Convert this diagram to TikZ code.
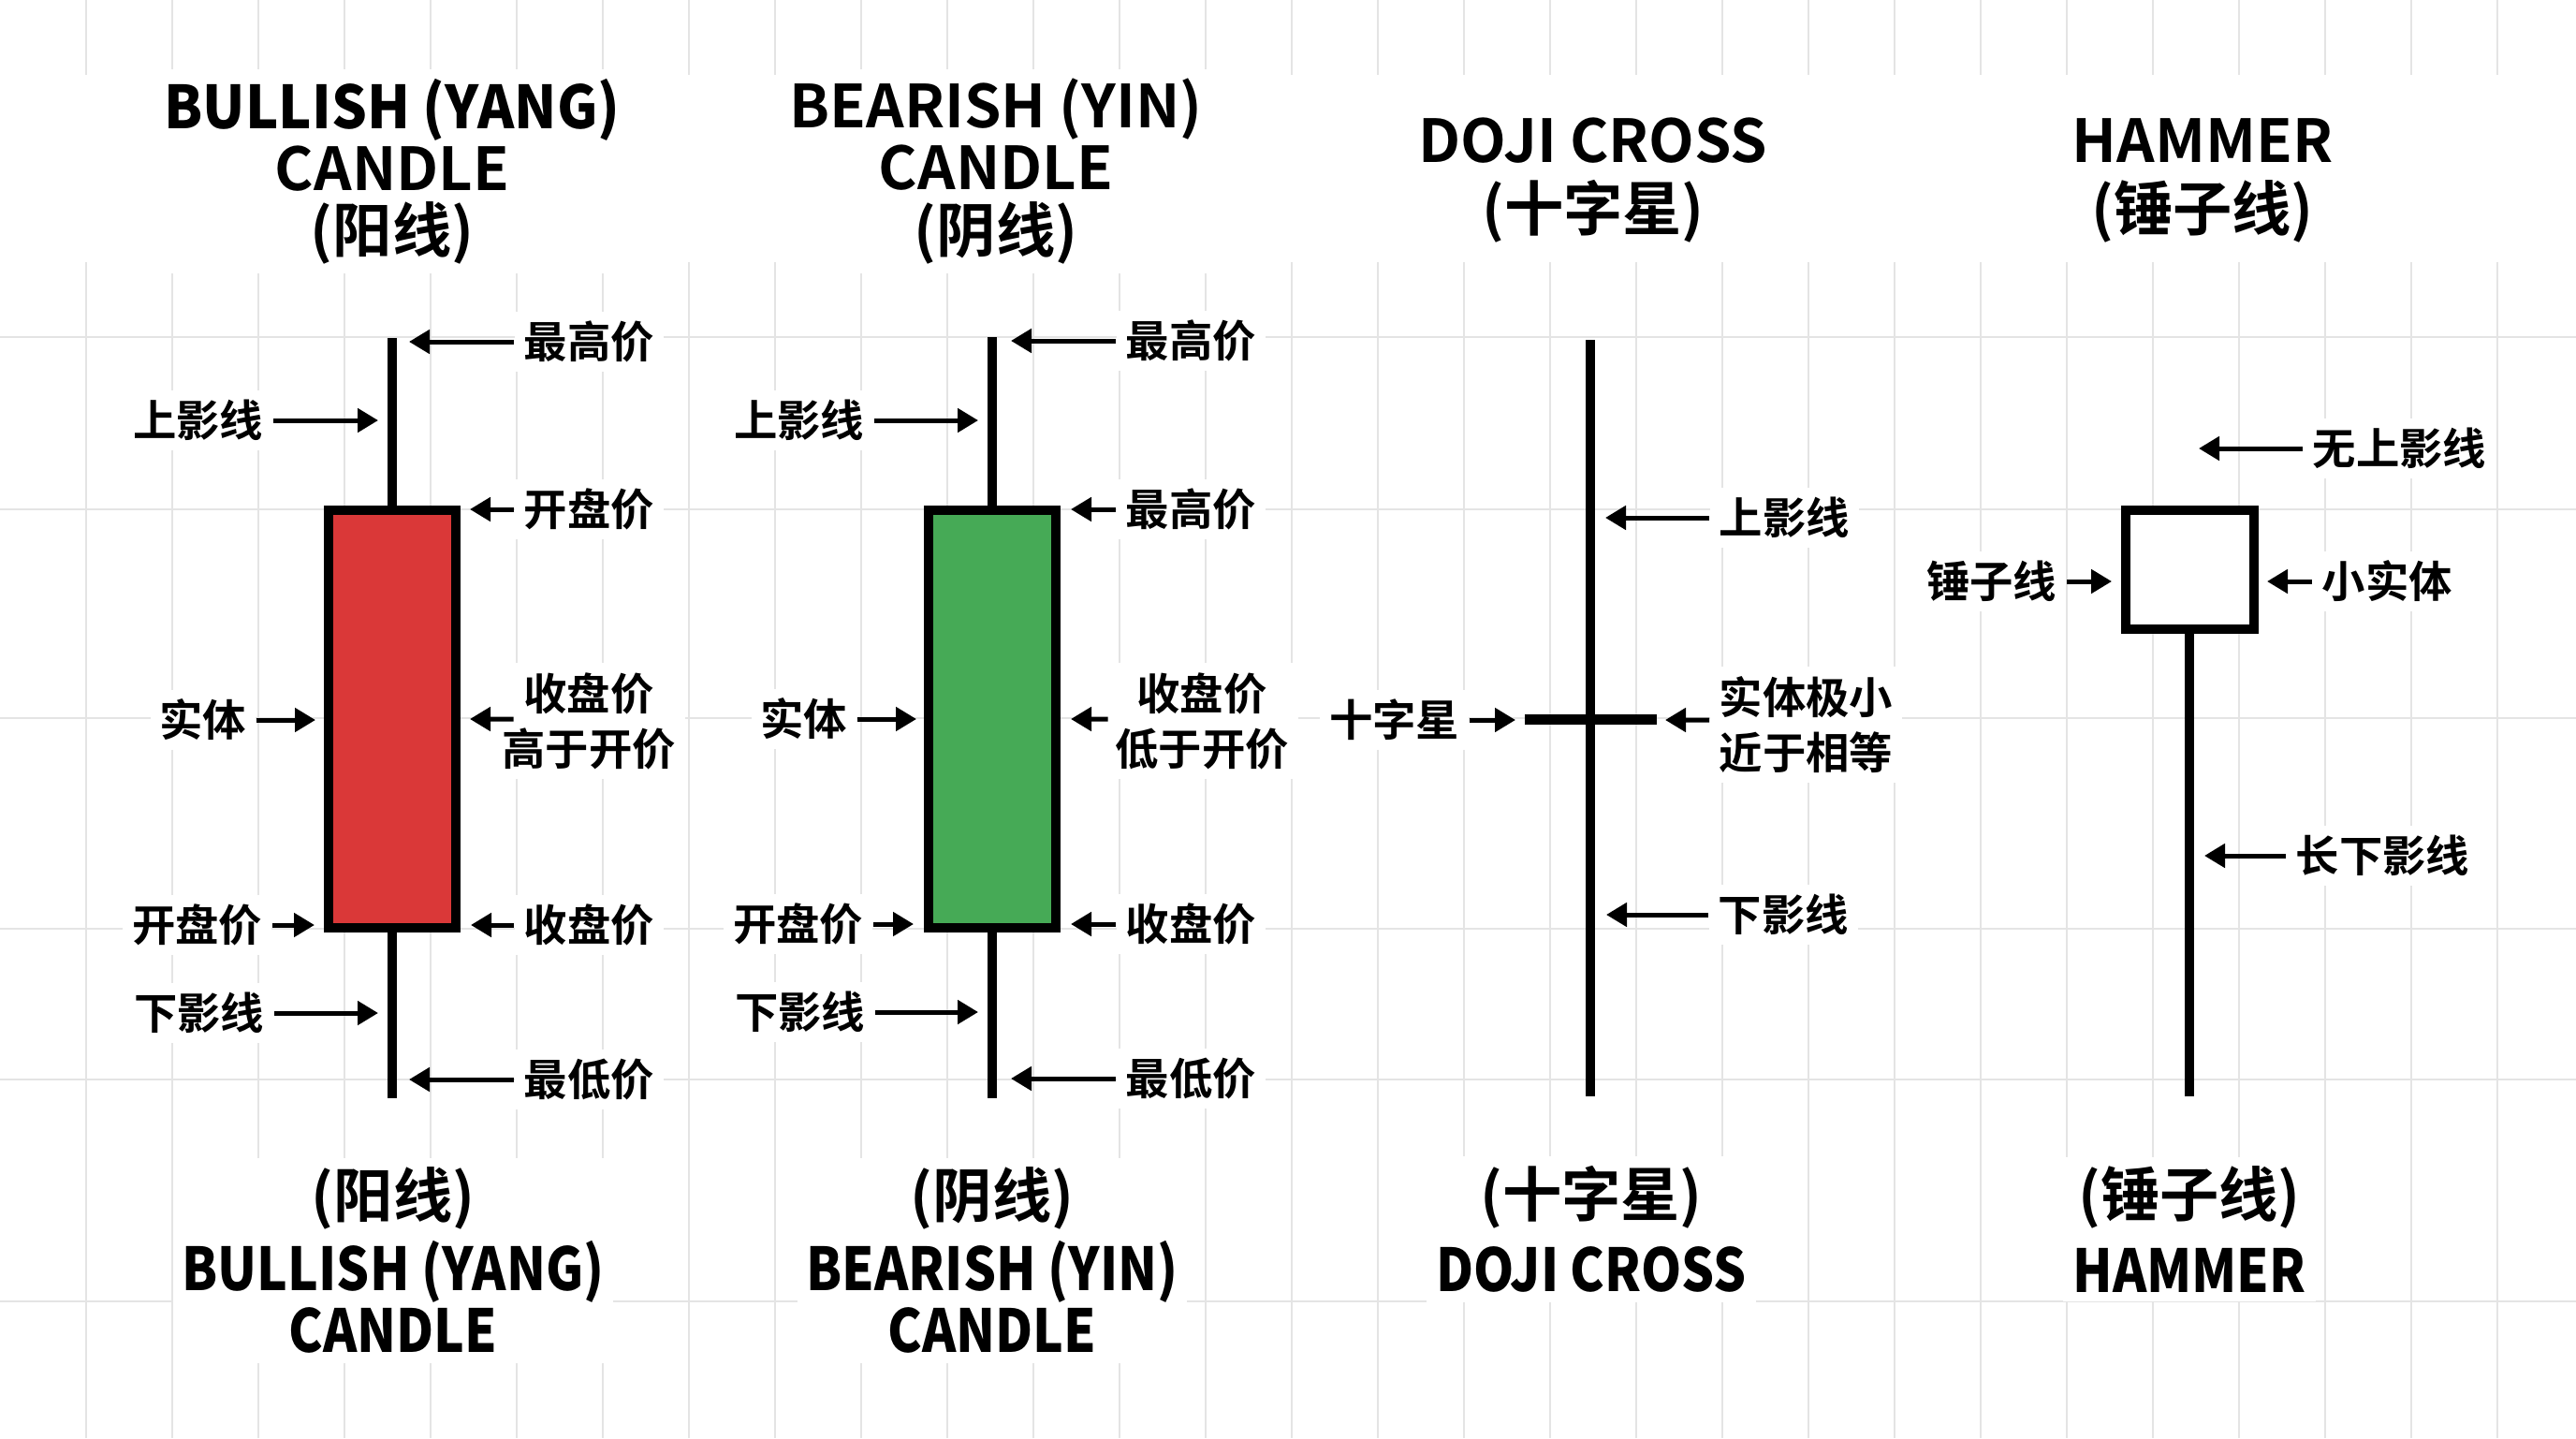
\documentclass[tikz,border=0pt]{standalone}
\usepackage{fontspec}
\setmainfont{Noto Sans CJK SC}[BoldFont=* Bold]
\newfontfamily\narrowlat{Noto Sans CJK SC Bold}[FakeStretch=0.87]
\newfontfamily\slimlat{Noto Sans CJK SC Bold}[FakeStretch=0.94]
\usetikzlibrary{arrows.meta,calc}

\definecolor{yangred}{RGB}{218,56,56}
\definecolor{yingreen}{RGB}{70,170,86}
\definecolor{gridgray}{RGB}{228,228,228}

\begin{document}
\begin{tikzpicture}[
    ttl/.style  = {align=center, fill=white, inner sep=1mm,
                   font=\bfseries\fontsize{18pt}{18.8pt}\selectfont},
    lbl/.style  = {fill=white, inner sep=1mm,
                   font=\bfseries\fontsize{13.2pt}{16.8pt}\selectfont},
    wick/.style = {draw=black, line width=1mm},
    body/.style = {draw=black, line width=1mm, inner sep=0pt, minimum width=1.36cm},
    ar/.style   = {-{Triangle[length=2.2mm,width=2.5mm]}, draw=black, line width=0.5mm},
    grd/.style  = {draw=gridgray, line width=0.25mm},
]

%--- page and faint grid
\useasboundingbox[fill=white] (0,0) rectangle (27.52,-15.36);
\foreach \gx in {0.92,1.84,...,27.5} \draw[grd] (\gx,0) -- (\gx,-15.36);
\foreach \gy in {3.60,5.44,7.67,9.92,11.53,13.90} \draw[grd] (0,-\gy) -- (27.52,-\gy);
\fill[white] (0,-0.80) rectangle (27.52,-2.80);

%--- headings
\node[ttl] (yangtitle) at (4.19,-1.83) {{\slimlat BULLISH (YANG)}\\CANDLE\\(阳线)};
\node[ttl] (yintitle)  at (10.64,-1.83) {BEARISH (YIN)\\CANDLE\\(阴线)};
\node[ttl] (dojititle) at (17.02,-1.93) {DOJI CROSS\\[0.7mm](十字星)};
\node[ttl] (hamtitle)  at (23.53,-1.93) {HAMMER\\[0.7mm](锤子线)};

%--- bullish candle
\coordinate (yanghigh) at (4.19,-3.61);
\coordinate (yanglow)  at (4.19,-11.73);
\node[body, fill=yangred, minimum height=4.46cm] (yangbody) at (4.19,-7.68) {};
\draw[wick] (yanghigh) -- (yangbody.north);
\draw[wick] (yangbody.south) -- (yanglow);

\node[lbl, anchor=west] (yanghi)    at (5.49,-3.65)  {最高价};
\node[lbl, anchor=east] (yangup)    at (2.92,-4.49)  {上影线};
\node[lbl, anchor=west] (yangopen)  at (5.49,-5.44)  {开盘价};
\node[lbl, align=center] (yangnote) at (6.29,-7.70)  {收盘价\\高于开价};
\node[lbl, anchor=east] (yangbd)    at (2.74,-7.69)  {实体};
\node[lbl, anchor=east] (yangopenb) at (2.91,-9.88)  {开盘价};
\node[lbl, anchor=west] (yangclose) at (5.49,-9.88)  {收盘价};
\node[lbl, anchor=east] (yangdown)  at (2.93,-10.82) {下影线};
\node[lbl, anchor=west] (yanglo)    at (5.49,-11.53) {最低价};

\coordinate (yanghitip)    at (4.37,-3.65);
\coordinate (yanguptip)    at (4.04,-4.49);
\coordinate (yangopentip)  at (5.02,-5.44);
\coordinate (yangnotetip)  at (5.02,-7.68);
\coordinate (yangbdtip)    at (3.37,-7.69);
\coordinate (yangopenbtip) at (3.36,-9.88);
\coordinate (yangclosetip) at (5.03,-9.88);
\coordinate (yangdowntip)  at (4.04,-10.82);
\coordinate (yanglotip)    at (4.37,-11.53);

\draw[ar] (yanghi) -- (yanghitip);
\draw[ar] (yangup) -- (yanguptip);
\draw[ar] (yangopen) -- (yangopentip);
\draw[ar] ([xshift=2.3mm,yshift=0.2mm]yangnote.west) -- (yangnotetip);
\draw[ar] (yangbd) -- (yangbdtip);
\draw[ar] (yangopenb) -- (yangopenbtip);
\draw[ar] (yangclose) -- (yangclosetip);
\draw[ar] (yangdown) -- (yangdowntip);
\draw[ar] (yanglo) -- (yanglotip);

%--- bearish candle
\coordinate (yinhigh) at (10.60,-3.60);
\coordinate (yinlow)  at (10.60,-11.73);
\node[body, fill=yingreen, minimum height=4.46cm] (yinbody) at (10.60,-7.68) {};
\draw[wick] (yinhigh) -- (yinbody.north);
\draw[wick] (yinbody.south) -- (yinlow);

\node[lbl, anchor=west] (yinhi)    at (11.92,-3.64)  {最高价};
\node[lbl, anchor=east] (yinup)    at (9.34,-4.49)   {上影线};
\node[lbl, anchor=west] (yinhib)   at (11.92,-5.44)  {最高价};
\node[lbl, align=center] (yinnote) at (12.84,-7.70)  {收盘价\\低于开价};
\node[lbl, anchor=east] (yinbd)    at (9.16,-7.68)   {实体};
\node[lbl, anchor=east] (yinopen)  at (9.33,-9.87)   {开盘价};
\node[lbl, anchor=west] (yinclose) at (11.92,-9.87)  {收盘价};
\node[lbl, anchor=east] (yindown)  at (9.35,-10.81)  {下影线};
\node[lbl, anchor=west] (yinlo)    at (11.92,-11.52) {最低价};

\coordinate (yinhitip)    at (10.80,-3.64);
\coordinate (yinuptip)    at (10.45,-4.49);
\coordinate (yinhibtip)   at (11.44,-5.44);
\coordinate (yinnotetip)  at (11.44,-7.68);
\coordinate (yinbdtip)    at (9.79,-7.68);
\coordinate (yinopentip)  at (9.76,-9.87);
\coordinate (yinclosetip) at (11.44,-9.87);
\coordinate (yindowntip)  at (10.45,-10.81);
\coordinate (yinlotip)    at (10.80,-11.52);

\draw[ar] (yinhi) -- (yinhitip);
\draw[ar] (yinup) -- (yinuptip);
\draw[ar] (yinhib) -- (yinhibtip);
\draw[ar] ([xshift=0.3mm,yshift=0.2mm]yinnote.west) -- (yinnotetip);
\draw[ar] (yinbd) -- (yinbdtip);
\draw[ar] (yinopen) -- (yinopentip);
\draw[ar] (yinclose) -- (yinclosetip);
\draw[ar] (yindown) -- (yindowntip);
\draw[ar] (yinlo) -- (yinlotip);

%--- doji cross
\coordinate (dojihigh) at (16.99,-3.63);
\coordinate (dojilow)  at (16.99,-11.71);
\draw[wick] (dojihigh) -- (dojilow);
\node[fill=black, inner sep=0pt, minimum width=1.41cm, minimum height=0.11cm] (dojibar) at (16.99,-7.68) {};

\node[lbl, anchor=west] (dojiup)   at (18.26,-5.53) {上影线};
\node[lbl, anchor=east] (dojilbl)  at (15.70,-7.69) {十字星};
\node[lbl, anchor=west, align=left] (dojinote) at (18.26,-7.74) {实体极小\\近于相等};
\node[lbl, anchor=west] (dojidown) at (18.25,-9.77) {下影线};

\coordinate (dojiuptip)   at (17.15,-5.53);
\coordinate (dojilbltip)  at (16.19,-7.69);
\coordinate (dojinotetip) at (17.79,-7.69);
\coordinate (dojidowntip) at (17.16,-9.77);

\draw[ar] (dojiup) -- (dojiuptip);
\draw[ar] (dojilbl) -- (dojilbltip);
\draw[ar] ([yshift=0.5mm]dojinote.west) -- (dojinotetip);
\draw[ar] (dojidown) -- (dojidowntip);

%--- hammer
\coordinate (hamlow) at (23.39,-11.71);
\node[body, fill=white, minimum width=1.37cm, minimum height=1.27cm] (hambody) at (23.39,-6.085) {};
\draw[wick] (hambody.south) -- (hamlow);

\node[lbl, anchor=west] (hamnoup)  at (24.60,-4.79) {无上影线};
\node[lbl, anchor=east] (hamlbl)   at (22.08,-6.21) {锤子线};
\node[lbl, anchor=west] (hamsmall) at (24.70,-6.21) {小实体};
\node[lbl, anchor=west] (hamlong)  at (24.42,-9.14) {长下影线};

\coordinate (hamnouptip)  at (23.49,-4.79);
\coordinate (hamlbltip)   at (22.56,-6.21);
\coordinate (hamsmalltip) at (24.22,-6.21);
\coordinate (hamlongtip)  at (23.55,-9.14);

\draw[ar] (hamnoup) -- (hamnouptip);
\draw[ar] (hamlbl) -- (hamlbltip);
\draw[ar] (hamsmall) -- (hamsmalltip);
\draw[ar] (hamlong) -- (hamlongtip);

%--- names under the candles
\node[ttl] (yangname) at (4.20,-13.46)  {(阳线)\\[1.2mm]{\narrowlat BULLISH (YANG)}\\{\narrowlat CANDLE}};
\node[ttl] (yinname)  at (10.60,-13.46) {(阴线)\\[1.2mm]{\narrowlat BEARISH (YIN)}\\{\narrowlat CANDLE}};
\node[ttl] (dojiname) at (17.00,-13.13) {(十字星)\\[1.4mm]{\narrowlat DOJI CROSS}};
\node[ttl] (hamname)  at (23.39,-13.13) {(锤子线)\\[1.4mm]{\narrowlat HAMMER}};

\end{tikzpicture}
\end{document}
